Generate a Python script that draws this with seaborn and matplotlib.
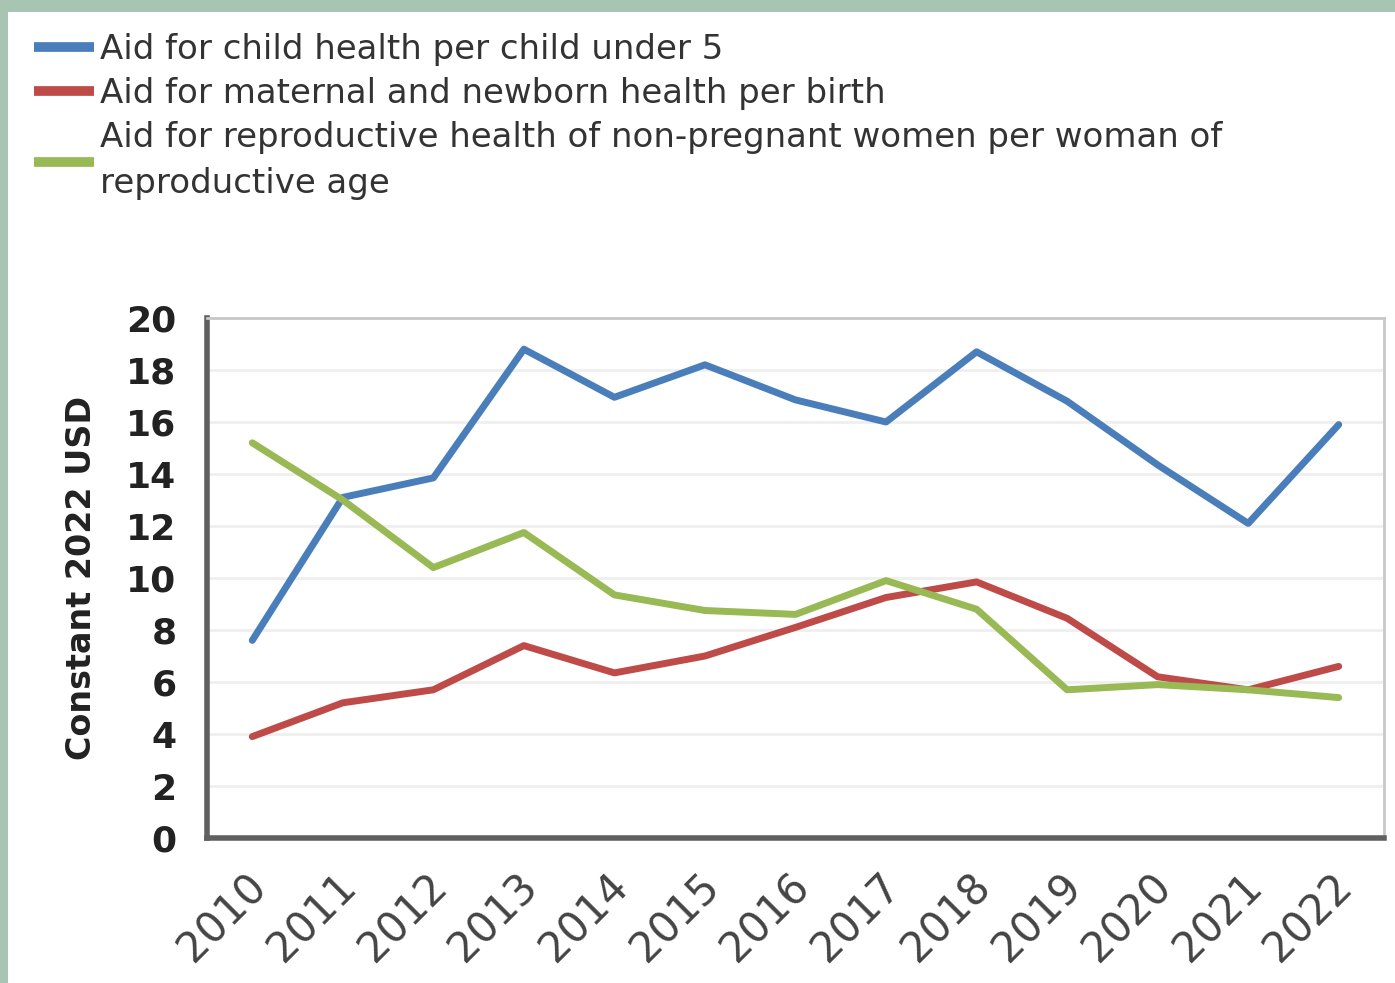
import matplotlib
matplotlib.use('Agg')
import matplotlib.pyplot as plt
import pandas as pd
import seaborn as sns
from matplotlib.patches import Rectangle
from matplotlib.ticker import FixedLocator, NullFormatter

years = ['2010', '2011', '2012', '2013', '2014', '2015', '2016',
         '2017', '2018', '2019', '2020', '2021', '2022']
child = [7.6, 13.1, 13.85, 18.8, 16.95, 18.2, 16.85, 16.0, 18.7, 16.8, 14.35, 12.1, 15.9]
maternal = [3.9, 5.2, 5.7, 7.4, 6.35, 7.0, 8.1, 9.25, 9.85, 8.45, 6.2, 5.7, 6.6]
repro = [15.2, 13.0, 10.4, 11.75, 9.35, 8.75, 8.6, 9.9, 8.8, 5.7, 5.9, 5.7, 5.4]

labels = ['Aid for child health per child under 5',
          'Aid for maternal and newborn health per birth',
          'Aid for reproductive health of non-pregnant women per woman of\nreproductive age']
colors = ['#4a7ebb', '#be4b48', '#98b954']

df = pd.concat([
    pd.DataFrame({'idx': range(len(years)), 'value': vals, 'series': lab})
    for vals, lab in zip([child, maternal, repro], labels)
])

sns.set_style('white')
plt.rcParams['font.family'] = ['DejaVu Sans']

fig = plt.figure(figsize=(13.95, 9.83), dpi=100, facecolor='#a8c5b3')
fig.add_artist(Rectangle((8 / 1395, 0), 1 - 8 / 1395, 971 / 983,
                         transform=fig.transFigure, facecolor='white',
                         edgecolor='none', zorder=-1))
ax = fig.add_axes([207 / 1395, 145 / 983, 1177 / 1395, 520 / 983])

sns.lineplot(data=df, x='idx', y='value', hue='series', palette=colors,
             linewidth=5, ax=ax, legend=True)

ax.set_xlim(-0.5, len(years) - 0.5)
ax.set_ylim(0, 20)
ax.set_yticks(range(0, 21, 2))
ax.yaxis.grid(True, color='#efefef', linewidth=2)
ax.set_axisbelow(True)

# category ticks between years, labels at the centres
ax.xaxis.set_major_locator(FixedLocator([i - 0.5 for i in range(len(years) + 1)]))
ax.xaxis.set_major_formatter(NullFormatter())
ax.xaxis.set_minor_locator(FixedLocator([i - 0.08 for i in range(len(years))]))
ax.set_xticklabels(years, minor=True, rotation=45, ha='right',
                   rotation_mode='anchor', fontsize=30, color='#444444')
ax.tick_params(axis='x', which='minor', length=0, pad=20)
ax.tick_params(axis='x', which='major', length=16, width=3, color='#555555')
ax.tick_params(axis='y', length=18, width=3, color='#555555', labelsize=26,
               labelcolor='#222222', pad=4)
for t in ax.get_yticklabels():
    t.set_fontweight('bold')

for side in ['left', 'bottom']:
    ax.spines[side].set_color('#606060')
    ax.spines[side].set_linewidth(4)
for side in ['top', 'right']:
    ax.spines[side].set_color('#c8c8c8')
    ax.spines[side].set_linewidth(2)

ax.set_xlabel('')
ax.set_ylabel('Constant 2022 USD', fontsize=24, fontweight='bold',
              color='#222222', labelpad=20)

handles, labs = ax.get_legend_handles_labels()
ax.legend_.remove()
for h in handles:
    h.set_linewidth(7)
    h.set_solid_capstyle('butt')
leg = fig.legend(handles, labs, loc='upper left',
                 bbox_to_anchor=(34 / 1395, 1 - 33 / 983),
                 frameon=False, fontsize=24.5, handlelength=1.75, handletextpad=0.2,
                 labelspacing=0.33, labelcolor='#333333', borderaxespad=0,
                 borderpad=0)
leg.get_texts()[2].set_linespacing(1.5)

fig.savefig('out.png', dpi=100, facecolor=fig.get_facecolor())
